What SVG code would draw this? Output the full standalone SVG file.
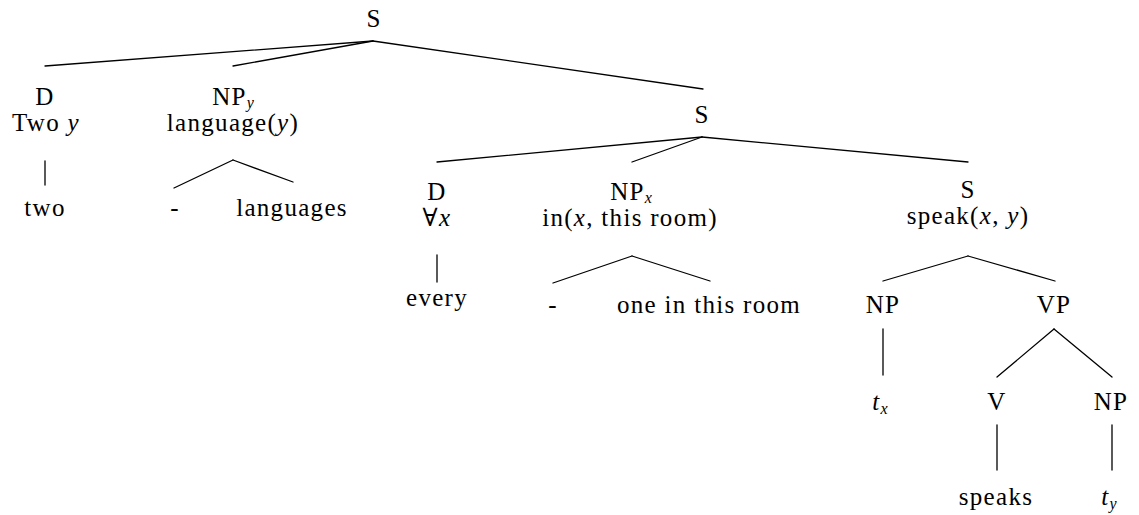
<svg xmlns="http://www.w3.org/2000/svg" width="1139" height="515" viewBox="0 0 1139 515" font-family="'Liberation Serif', Tinos, 'Times New Roman', 'DejaVu Serif', serif">
  <style>
    text { font-family: 'Liberation Serif', Tinos, 'Times New Roman', 'DejaVu Serif', serif; font-size: 25px; letter-spacing: 1.3px; fill: #000; text-anchor: middle; }
    .it { font-style: italic; }
    .sub { font-size: 16px; font-style: italic; letter-spacing: 0; }
    .edges line { stroke: #000; stroke-width: 1.3; stroke-linecap: round; }
  </style>
  <rect width="1139" height="515" fill="#fff"/>

  <!-- tree branches -->
  <g id="connectors" class="edges">
    <line x1="373" y1="41" x2="45" y2="66"/>
    <line x1="373" y1="41" x2="233" y2="66"/>
    <line x1="373" y1="41" x2="703" y2="89"/>
    <line x1="702" y1="137" x2="437" y2="162"/>
    <line x1="702" y1="137" x2="632" y2="162"/>
    <line x1="702" y1="137" x2="968" y2="162"/>
    <line x1="45" y1="161" x2="45" y2="185"/>
    <line x1="233" y1="160" x2="174" y2="188"/>
    <line x1="233" y1="160" x2="293" y2="182"/>
    <line x1="437" y1="255" x2="437" y2="282"/>
    <line x1="632" y1="256" x2="553" y2="283"/>
    <line x1="632" y1="256" x2="710" y2="281"/>
    <line x1="968" y1="256" x2="883" y2="281"/>
    <line x1="968" y1="256" x2="1055" y2="281"/>
    <line x1="883" y1="329" x2="883" y2="375"/>
    <line x1="1054" y1="329" x2="997" y2="377"/>
    <line x1="1054" y1="329" x2="1112" y2="377"/>
    <line x1="997" y1="425" x2="997" y2="470"/>
    <line x1="1112" y1="425" x2="1112" y2="470"/>
  </g>

  <g id="s-root"><text x="374" y="27">S</text></g>

  <g id="d-two">
    <text x="45" y="105">D</text>
    <text x="46" y="131">Two <tspan class="it">y</tspan></text>
  </g>
  <g id="leaf-two"><text x="45" y="216">two</text></g>

  <g id="np-y">
    <text x="233" y="105">NP<tspan class="sub" dy="3">y</tspan></text>
    <text x="233" y="131">language(<tspan class="it">y</tspan>)</text>
  </g>
  <g id="leaf-dash-y"><text x="175" y="216">-</text></g>
  <g id="leaf-languages"><text x="292" y="216">languages</text></g>

  <g id="s-mid"><text x="702" y="123">S</text></g>

  <g id="d-every">
    <text x="437" y="200">D</text>
    <text x="437" y="226">∀<tspan class="it">x</tspan></text>
  </g>
  <g id="leaf-every"><text x="437" y="306">every</text></g>

  <g id="np-x">
    <text x="631" y="200">NP<tspan class="sub" dy="3">x</tspan></text>
    <text x="630" y="226">in(<tspan class="it">x</tspan>, this room)</text>
  </g>
  <g id="leaf-dash-x"><text x="553" y="313">-</text></g>
  <g id="leaf-room"><text x="709" y="313">one in this room</text></g>

  <g id="s-speak">
    <text x="968" y="198">S</text>
    <text x="968" y="224">speak(<tspan class="it">x</tspan>, <tspan class="it">y</tspan>)</text>
  </g>

  <g id="np-subj"><text x="883" y="313">NP</text></g>
  <g id="trace-x"><text x="880" y="410"><tspan class="it">t</tspan><tspan class="sub" dy="4">x</tspan></text></g>

  <g id="vp"><text x="1054" y="313">VP</text></g>
  <g id="v"><text x="997" y="410">V</text></g>
  <g id="leaf-speaks"><text x="996" y="505">speaks</text></g>
  <g id="np-obj"><text x="1111" y="410">NP</text></g>
  <g id="trace-y"><text x="1109" y="505"><tspan class="it">t</tspan><tspan class="sub" dy="4">y</tspan></text></g>
</svg>
